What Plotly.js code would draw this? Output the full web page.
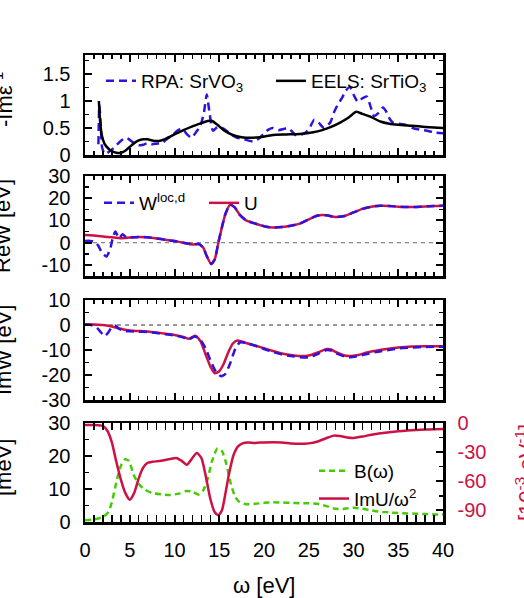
<!DOCTYPE html>
<html>
<head>
<meta charset="utf-8">
<script src="https://cdn.plot.ly/plotly-3.0.1.min.js"></script>
<style>
  body { margin: 0; background: white; }
  #chart { width: 524px; height: 598px; }
</style>
</head>
<body>
<div id="chart"></div>
<script>
// panel 1: -Im eps^-1
let rpaX = [1.5, 1.6, 1.75, 1.9, 2.2, 2.6, 3.0, 3.5, 4.0, 4.6, 5.0, 5.5, 6.0, 6.5, 7.0, 7.5, 8.0, 8.6, 9.2, 9.8, 10.4, 10.9, 11.4, 11.9, 12.4, 12.9, 13.3, 13.6, 13.9, 14.3, 14.8, 15.3, 15.8, 16.3, 17.0, 17.6, 18.2, 18.8, 19.4, 20.0, 20.5, 21.0, 21.6, 22.2, 22.7, 23.1, 23.6, 24.2, 24.7, 25.1, 25.6, 26.1, 26.7, 27.4, 27.8, 28.2, 28.7, 29.1, 29.6, 30.0, 30.5, 31.0, 31.5, 31.9, 32.3, 32.8, 33.3, 33.6, 34.0, 34.4, 35.0, 35.8, 36.6, 37.4, 38.2, 39.0, 40.0];
let rpaY = [0.2, 0.92, 0.6, 0.15, 0.02, 0.05, 0.1, 0.18, 0.26, 0.32, 0.28, 0.22, 0.18, 0.19, 0.22, 0.2, 0.21, 0.22, 0.3, 0.37, 0.46, 0.48, 0.38, 0.32, 0.42, 0.54, 0.8, 1.12, 0.8, 0.45, 0.52, 0.5, 0.45, 0.38, 0.32, 0.3, 0.27, 0.25, 0.3, 0.4, 0.47, 0.5, 0.46, 0.48, 0.5, 0.44, 0.36, 0.38, 0.42, 0.5, 0.65, 0.6, 0.5, 0.6, 0.78, 0.92, 1.05, 1.18, 1.26, 1.12, 0.98, 1.05, 1.08, 0.9, 0.72, 0.78, 0.88, 0.82, 0.68, 0.6, 0.58, 0.56, 0.5, 0.47, 0.45, 0.42, 0.4];
let eelsX = [1.55, 1.7, 1.9, 2.2, 2.6, 3.0, 3.5, 4.0, 4.5, 5.0, 5.5, 6.0, 6.5, 7.0, 7.5, 8.0, 8.5, 9.0, 10.0, 11.0, 12.0, 13.0, 13.7, 14.2, 14.8, 15.5, 16.5, 17.5, 18.5, 19.5, 21.0, 22.5, 24.0, 25.5, 26.5, 27.5, 28.5, 29.5, 30.3, 31.0, 32.0, 33.0, 34.0, 35.0, 36.5, 38.0, 40.0];
let eelsY = [1.0, 0.6, 0.35, 0.2, 0.12, 0.07, 0.04, 0.04, 0.08, 0.15, 0.22, 0.27, 0.29, 0.29, 0.27, 0.26, 0.27, 0.3, 0.38, 0.46, 0.53, 0.59, 0.63, 0.63, 0.56, 0.46, 0.37, 0.33, 0.32, 0.33, 0.37, 0.38, 0.39, 0.42, 0.46, 0.52, 0.6, 0.7, 0.8, 0.76, 0.7, 0.62, 0.58, 0.56, 0.54, 0.52, 0.5];

// panel 2: Re W / Re U
let reUX = [0, 1, 2, 3, 4, 5, 6, 7, 8, 9, 10, 11, 12, 12.7, 13.2, 13.6, 14.1, 14.5, 14.9, 15.3, 15.7, 16.2, 16.7, 17.3, 18.0, 19.0, 20.0, 21.0, 22.0, 23.0, 24.0, 25.0, 26.0, 26.5, 27.0, 28.0, 29.0, 30.0, 31.0, 32.0, 33.0, 34.0, 35.0, 36.0, 37.0, 38.0, 39.0, 40.0];
let reU = [3.5, 3.2, 2.8, 2.4, 2.0, 2.3, 2.6, 2.4, 1.9, 1.3, 0.7, 0, -0.8, -0.6, -2.2, -6, -9.6, -7.5, 0, 7, 13, 17, 16, 12.5, 10, 8.6, 7.4, 6.8, 7, 7.6, 8.6, 10.5, 12.2, 12.4, 12.3, 11.6, 12, 13.6, 15.2, 16.2, 16.6, 16.5, 16.2, 16.0, 16.1, 16.3, 16.5, 16.6];
let reWX = [0, 0.6, 1.1, 1.5, 1.9, 2.4, 2.8, 3.1, 3.4, 3.8, 4.2, 4.6, 5, 6, 7, 8, 9, 10, 11, 12, 12.7, 13.2, 13.6, 14.1, 14.5, 14.9, 15.3, 15.7, 16.2, 16.7, 17.3, 18.0, 19.0, 20.0, 21.0, 22.0, 23.0, 24.0, 25.0, 26.0, 26.5, 27.0, 28.0, 29.0, 30.0, 31.0, 32.0, 33.0, 34.0, 35.0, 36.0, 37.0, 38.0, 39.0, 40.0];
let reW = [0.8, 0.8, 0.4, -1.5, -4.5, -6.2, -3, 2, 5, 2, 3.8, 2.4, 2.3, 2.6, 2.4, 1.9, 1.3, 0.7, 0, -0.8, -0.6, -2.2, -6, -9.6, -7.5, 0, 7, 13, 17, 16, 12.5, 10, 8.6, 7.4, 6.8, 7, 7.6, 8.6, 10.5, 12.2, 12.4, 12.3, 11.6, 12, 13.6, 15.2, 16.2, 16.6, 16.5, 16.2, 16.0, 16.1, 16.3, 16.5, 16.6];

// panel 3: Im W / Im U
let imUX = [0, 1, 2, 3, 4, 5, 6, 7, 8, 9, 10, 11, 11.6, 12.3, 12.9, 13.5, 14.0, 14.5, 15.0, 15.5, 16.0, 16.5, 17.0, 17.5, 18.0, 19.0, 20.0, 21.0, 22.0, 23.0, 24.0, 25.0, 26.0, 27.0, 27.5, 28.0, 29.0, 29.6, 30.5, 31.5, 32.5, 33.5, 35.0, 36.5, 38.0, 40.0];
let imU = [0.3, 0.2, 0, -0.6, -1.5, -2.2, -2.4, -2.6, -3.0, -3.5, -4, -4.8, -5.5, -4.3, -6.5, -12, -16.5, -19.3, -18.5, -15.5, -11, -7.5, -6.2, -6.6, -7.2, -8.2, -9.3, -10.4, -11.4, -12.0, -12.4, -12.2, -11, -9.6, -9.8, -10.8, -12.2, -12.4, -12, -11, -10.3, -9.7, -9.0, -8.6, -8.5, -8.5];
let imWX = [0, 0.7, 1.3, 1.8, 2.2, 2.6, 3.0, 3.4, 3.8, 4.3, 5, 6, 7, 8, 9, 10, 11, 11.6, 12.3, 12.9, 13.5, 14.0, 14.6, 15.2, 15.7, 16.2, 16.8, 17.3, 18.0, 19, 20, 21, 22, 23, 24, 25, 26, 27, 27.5, 28, 29, 29.6, 30.5, 31.5, 32.5, 33.5, 35, 36.5, 38, 40];
let imW = [0.3, 0, -1, -3, -4.5, -3, -0.8, -0.3, -1.5, -2.4, -2.5, -2.7, -2.8, -3.2, -3.7, -4.2, -5, -5.7, -4.6, -6, -9.5, -14, -18.5, -20.5, -19.5, -15.5, -9.5, -7, -7.2, -8.3, -9.6, -10.8, -11.8, -12.4, -12.9, -13, -11.6, -10, -10.2, -11.2, -12.6, -12.9, -12.4, -11.6, -10.8, -10.2, -9.4, -9, -8.8, -8.7];

// panel 4: B(w) [meV] and ImU/w^2 [1e-3 eV^-1]
let bX = [0, 1, 2, 2.6, 3.0, 3.5, 4.0, 4.5, 4.9, 5.4, 6.0, 6.7, 7.5, 8.5, 9.5, 10.5, 11.3, 12.0, 12.7, 13.2, 13.7, 14.2, 14.8, 15.3, 15.8, 16.3, 16.8, 17.3, 18.0, 19.0, 20.0, 21.0, 22.0, 23.0, 24.0, 25.0, 26.0, 27.0, 28.0, 29.0, 30.0, 31.0, 32.0, 33.0, 34.0, 35.0, 36.0, 37.0, 38.0, 39.0, 40.0];
let bY = [0.5, 0.8, 1.5, 3, 6, 12, 17, 19, 18.5, 14.5, 11.5, 9.8, 8.8, 8.4, 8.2, 8.6, 9.4, 9.2, 8.3, 9.5, 13, 18.5, 22.3, 21.5, 17.5, 11.5, 7.5, 6, 5.4, 5.5, 5.8, 6, 5.9, 5.8, 5.7, 5.7, 5.5, 4.8, 4.0, 4.0, 4.3, 4.0, 3.5, 3.1, 2.9, 2.7, 2.6, 2.5, 2.4, 2.3, 2.3];
let uwX = [0, 1, 2, 2.5, 3.0, 3.5, 4.0, 4.5, 5.0, 5.5, 6.0, 6.5, 7.0, 7.5, 8.5, 9.5, 10.2, 10.8, 11.4, 12.0, 12.5, 13.0, 13.5, 14.0, 14.5, 14.9, 15.3, 15.7, 16.1, 16.6, 17.1, 17.6, 18.2, 19.0, 20.0, 21.0, 22.0, 23.0, 24.0, 25.0, 26.0, 27.0, 27.8, 28.5, 29.3, 30.0, 31.0, 32.0, 33.0, 34.0, 35.0, 36.0, 37.0, 38.0, 39.0, 40.0];
let uwY = [-2, -2, -3, -8, -20, -40, -58, -72, -79, -72, -57, -46, -41, -40, -39, -37, -36, -39, -43, -36, -31, -36, -55, -78, -92, -95, -90, -72, -52, -33, -24, -21, -20, -20.5, -20, -19.8, -20, -21, -21.5, -21, -19, -15.5, -13, -13.5, -15, -15.5, -14, -12, -10.5, -9.5, -8.5, -7.8, -7.2, -6.8, -6.5, -6.2];

// tick labels (gnuplot style hyphen minus)
let ticks1 = [0, 0.5, 1, 1.5];
let ticks2 = [-10, 0, 10, 20, 30];
let ticks3 = [-30, -20, -10, 0, 10];
let ticks4 = [0, 10, 20, 30];
let ticks4r = [-90, -60, -30, 0];
let asText = v => v.map(t => String(t));

const BLUE = "#3311dd";
const RED = "#cc1144";
const GREEN = "#44cc00";
const FONT = "Liberation Sans, Arial, sans-serif";

// pixel helpers for layout placement
const W = 524, H = 598;
const px = x => x / W;
const py = y => 1 - y / H;

function frame(extra) {
    return Object.assign({
        showline: true, linewidth: 2.5, linecolor: "black", mirror: "allticks",
        ticks: "inside", ticklen: 7, tickwidth: 2, tickcolor: "black",
        showgrid: false, zeroline: false, ticklabelstandoff: 8,
        tickfont: { size: 20, color: "black", family: FONT }
    }, extra);
}

function xax(anchor, labels) {
    return frame({
        anchor: anchor, domain: [px(85), px(443)], range: [0, 40],
        tickmode: "linear", tick0: 0, dtick: 5, showticklabels: labels,
        minor: { ticks: "inside", ticklen: 4, tickwidth: 1.5, tickcolor: "black", dtick: 1, tick0: 0 },
        matches: anchor === "y" ? undefined : "x"
    });
}

function yax(anchor, top, bottom, range, vals, minorStep, extra) {
    return frame(Object.assign({
        anchor: anchor, domain: [py(bottom), py(top)], range: range,
        tickmode: "array", tickvals: vals, ticktext: asText(vals),
        minor: { ticks: "inside", ticklen: 4, tickwidth: 1.5, tickcolor: "black", dtick: minorStep, tick0: 0 }
    }, extra || {}));
}

// rotated axis title, placed by its centre in pixels
function sideTitle(text, x, y, color) {
    return { text: text, xref: "paper", yref: "paper", x: px(x), y: py(y),
             xanchor: "center", yanchor: "middle", textangle: -90, showarrow: false,
             font: { size: 22, color: color || "black", family: FONT } };
}

let spline = { shape: "spline", smoothing: 0.6 };

let traces = [
    { x: rpaX, y: rpaY, xaxis: "x", yaxis: "y", name: "RPA: SrVO<sub>3</sub>", legend: "legend",
      mode: "lines", line: Object.assign({ color: BLUE, width: 2.5, dash: "8px,5px" }, spline) },
    { x: eelsX, y: eelsY, xaxis: "x", yaxis: "y", name: "EELS: SrTiO<sub>3</sub>", legend: "legend",
      mode: "lines", line: Object.assign({ color: "black", width: 2.5 }, spline) },

    { x: reUX, y: reU, xaxis: "x2", yaxis: "y2", name: "U", legend: "legend2", legendrank: 2,
      mode: "lines", line: Object.assign({ color: RED, width: 2.5 }, spline) },
    { x: reWX, y: reW, xaxis: "x2", yaxis: "y2", name: "W<sup>loc,d</sup>", legend: "legend2", legendrank: 1,
      mode: "lines", line: Object.assign({ color: BLUE, width: 2.5, dash: "8px,5px" }, spline) },

    { x: imUX, y: imU, xaxis: "x3", yaxis: "y3", showlegend: false,
      mode: "lines", line: Object.assign({ color: RED, width: 2.5 }, spline) },
    { x: imWX, y: imW, xaxis: "x3", yaxis: "y3", showlegend: false,
      mode: "lines", line: Object.assign({ color: BLUE, width: 2.5, dash: "8px,5px" }, spline) },

    { x: bX, y: bY, xaxis: "x4", yaxis: "y4", name: "B(\u03c9)", legend: "legend3",
      mode: "lines", line: Object.assign({ color: GREEN, width: 2.5, dash: "6px,4px" }, spline) },
    { x: uwX, y: uwY, xaxis: "x4", yaxis: "y5", name: "ImU/\u03c9<sup>2</sup>", legend: "legend3",
      mode: "lines", line: Object.assign({ color: RED, width: 2.5 }, spline) }
];

let legendBase = {
    bgcolor: "rgba(0,0,0,0)", borderwidth: 0, itemwidth: 30,
    font: { size: 19, color: "black", family: FONT },
    xanchor: "left", yanchor: "top", traceorder: "normal"
};

let layout = {
    width: W, height: H,
    margin: { l: 0, r: 0, t: 0, b: 0 },
    paper_bgcolor: "white", plot_bgcolor: "white",
    font: { family: FONT, color: "black" },
    xaxis: xax("y", false),
    xaxis2: xax("y2", false),
    xaxis3: xax("y3", false),
    xaxis4: xax("y4", true),
    yaxis: yax("x", 55, 155, [0, 1.85], ticks1, 0.25),
    yaxis2: yax("x2", 176, 276, [-15, 30], ticks2, 5),
    yaxis3: yax("x3", 300, 400, [-30, 10], ticks3, 5),
    yaxis4: yax("x4", 423, 522, [0, 30], ticks4, 5, { mirror: false }),
    yaxis5: frame({
        anchor: "x4", overlaying: "y4", side: "right", range: [-102, 0], mirror: false,
        tickmode: "array", tickvals: ticks4r, ticktext: asText(ticks4r),
        tickfont: { size: 20, color: RED, family: FONT },
        minor: { ticks: "inside", ticklen: 4, tickwidth: 1.5, tickcolor: "black", dtick: 15, tick0: 0 }
    }),
    legend: Object.assign({}, legendBase, { orientation: "h", x: px(101), y: py(62), entrywidth: 125, entrywidthmode: "pixels" }),
    legend2: Object.assign({}, legendBase, { orientation: "h", x: px(99), y: py(184), entrywidth: 60, entrywidthmode: "pixels" }),
    legend3: Object.assign({}, legendBase, { orientation: "v", x: px(314), y: py(452) }),
    shapes: [
        { type: "line", xref: "x2", yref: "y2", x0: 0, x1: 40, y0: 0, y1: 0, line: { color: "#888888", width: 1.2, dash: "4px,4px" }, layer: "below" },
        { type: "line", xref: "x3", yref: "y3", x0: 0, x1: 40, y0: 0, y1: 0, line: { color: "#333333", width: 1, dash: "4px,4px" }, layer: "below" }
    ],
    annotations: [
        sideTitle("-Im\u03b5<sup>-1</sup>", 3, 100),
        sideTitle("ReW [eV]", 3, 226),
        sideTitle("ImW [eV]", 3, 350),
        sideTitle("[meV]", 3, 468),
        sideTitle("[10<sup>-3</sup> eV<sup>-1</sup>]", 525, 473, RED),
        { text: "\u03c9 [eV]", xref: "paper", yref: "paper", x: px(264), y: py(585),
          xanchor: "center", yanchor: "middle", showarrow: false, font: { size: 22, color: "black", family: FONT } }
    ]
};

Plotly.newPlot("chart", traces, layout, { staticPlot: true });
</script>
</body>
</html>
